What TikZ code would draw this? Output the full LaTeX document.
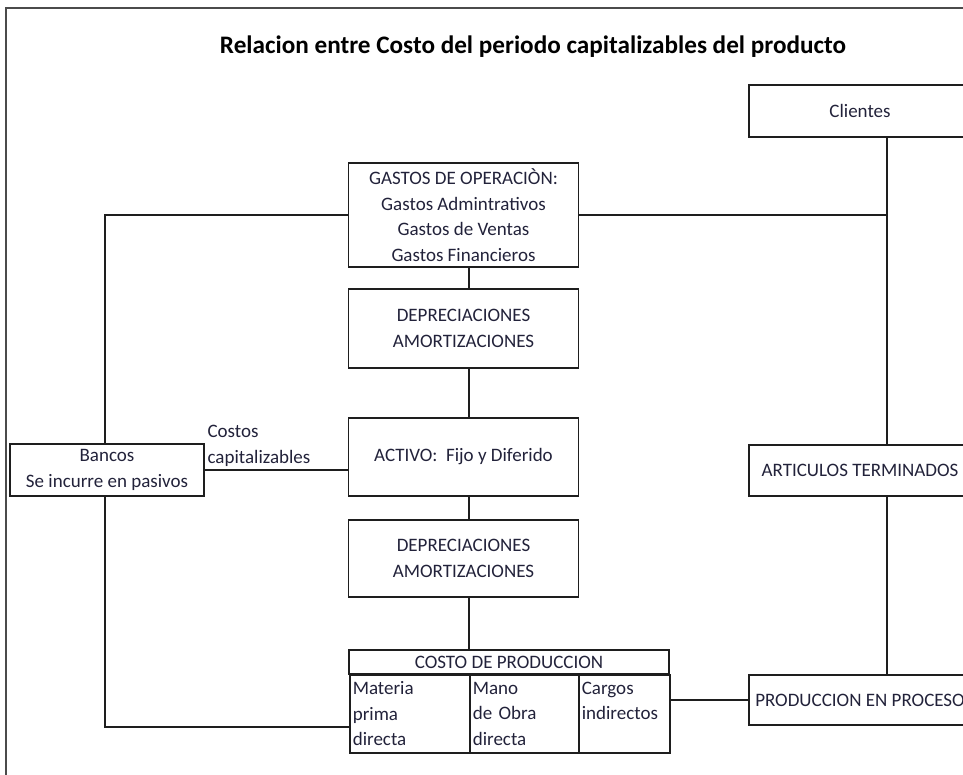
\documentclass[tikz,border=0pt]{standalone}
\usepackage{fontspec}
\setmainfont{Carlito}
\definecolor{tinta}{RGB}{34,34,58}
\definecolor{linea}{RGB}{30,30,30}

\begin{document}
\begin{tikzpicture}[x=1pt,y=-1pt,
  caja/.style={draw=linea,line width=1.6pt,rectangle,inner sep=0pt,align=center,text=tinta,
    font=\fontsize{19}{25.5}\selectfont},
  celda/.style={caja,align=left,anchor=north west,text width=#1,minimum height=78pt,inner xsep=3pt},
  conector/.style={draw=linea,line width=1.6pt}]

\useasboundingbox (0,0) rectangle (963,775);
\clip (0,0) rectangle (963,775);

% marco
\draw[line width=1.5pt,color=linea!80] (6,790) -- (6,8) -- (980,8);

\node[text=black,font=\bfseries\fontsize{25.2}{30}\selectfont] (titulo) at (533,47) {Relacion entre Costo del periodo capitalizables del producto};

% columna central
\node[caja,minimum width=230pt,minimum height=104pt] (gastos) at (463.5,215) {GASTOS DE OPERACI\`ON:\\Gastos Admintrativos\\Gastos de Ventas\\Gastos Financieros};
\node[caja,minimum width=230pt,minimum height=79pt] (dep1) at (463.5,328.5) {DEPRECIACIONES\\AMORTIZACIONES};
\node[caja,minimum width=230pt,minimum height=78pt] (activo) at (463.5,457) {ACTIVO:~ Fijo y Diferido};
\node[caja,minimum width=230pt,minimum height=77pt] (dep2) at (463.5,558.5) {DEPRECIACIONES\\AMORTIZACIONES};

% costo de produccion
\node[caja,minimum width=320pt,minimum height=24pt] (costo) at (509,662) {COSTO DE PRODUCCION};
\node[celda=114pt] (col1) at (349,674) {Materia\\prima\\directa};
\node[celda=103pt] (col2) at (469,674) {Mano\\de Obra\\directa};
\node[celda=85pt] (col3) at (578,674) {Cargos\\indirectos\\\mbox{}};

% lado derecho
\node[caja,minimum width=222pt,minimum height=52pt] (clientes) at (860,111) {Clientes};
\node[caja,minimum width=222pt,minimum height=51pt] (articulos) at (860,470.5) {ARTICULOS TERMINADOS};
\node[caja,minimum width=222pt,minimum height=50pt] (produccion) at (860,700) {PRODUCCION EN PROCESO};

% lado izquierdo
\node[caja,minimum width=194pt,minimum height=52pt] (bancos) at (107,470) {Bancos\\Se incurre en pasivos};

\coordinate (eje) at (887,0);
\coordinate (ejec) at (469,0);
\coordinate (ejei) at (105,0);

\draw[conector] (gastos.south -| ejec) -- (dep1.north -| ejec);
\draw[conector] (dep1.south -| ejec) -- (activo.north -| ejec);
\draw[conector] (activo.south -| ejec) -- (dep2.north -| ejec);
\draw[conector] (dep2.south -| ejec) -- (costo.north -| ejec);

\draw[conector] (clientes.south -| eje) -- (articulos.north -| eje);
\draw[conector] (articulos.south -| eje) -- (produccion.north -| eje);
\draw[conector] (gastos.east) -- (gastos.east -| eje);
\draw[conector] (produccion.west) -- (produccion.west -| col3.east);

\draw[conector] (gastos.west) -- (gastos.west -| ejei) -- (bancos.north -| ejei);
\draw[conector] (bancos.south -| ejei) -- ([yshift=-13pt]col1.west -| ejei) -- ([yshift=-13pt]col1.west);
\draw[conector] (bancos.east) -- (bancos.east -| activo.west)
  node[pos=0,anchor=south west,align=left,inner sep=2pt,yshift=1pt,text=tinta,font=\fontsize{19}{25.5}\selectfont] (etiqueta) {Costos\\capitalizables};

\end{tikzpicture}
\end{document}
